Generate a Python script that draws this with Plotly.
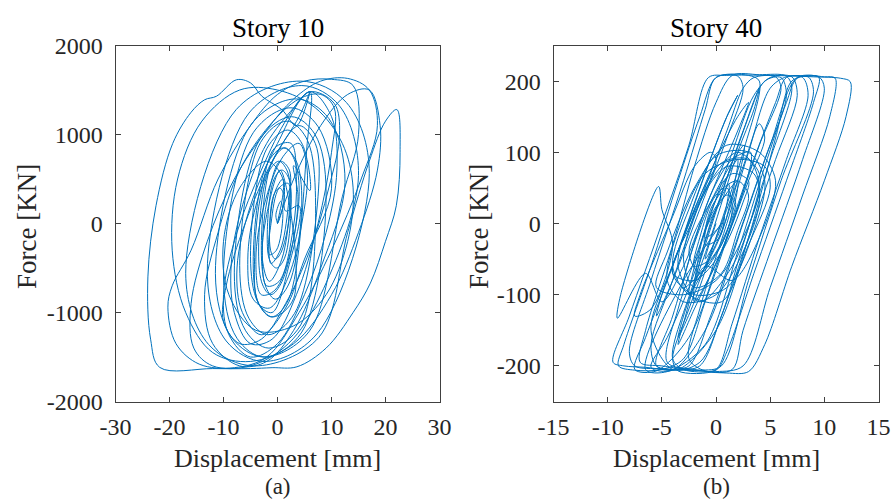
import plotly.graph_objects as go

# Story 10: storey shear force [kN] vs. inter-storey displacement [mm]
story10_disp = [
    0, 1.2, 1.0, -0.5, -1.5, -1.2, 0.5, 2.0, 2.2, 0.5, -1.8, -2.8, -2.0, 0.3, 2.8, 3.5, 2.5, -0.5, -3.0, -4.2,
    -3.5, -1.0, 2.0, 4.0,
    1.5, 1.1, 0.4, -0.7, -1.5, -1.1, -0.4, 0.7,
    2.5, 2.0, 0.8, -0.7, -1.9, -1.4, -0.2, 1.3,
    2.5, 1.8, 0.25, -1.85, -3.5, -2.75, -1.25, 0.85,
    4.0, 3.1, 1.4, -1.1, -3.0, -2.1, -0.4, 2.1,
    4.5, 3.4, 1.1, -2.0, -4.5, -3.4, -1.1, 2.0,
    5.5, 6.0, 3.0, -2.0, -6.0, -8.5, -8.0, -5.0, -1.0, 3.5, 7.5, 10.0, 10.5, 8.0, 4.0, -1.5,
    -7.0, -11.0, -13.5, -12.0, -7.0, -2.0, 3.0, 8.0,
    12.5, 9.5, 3.5, -4.9, -11.5, -8.5, -2.5, 5.9,
    12.0, 15.0, 14.0, 10.0, 5.0, 0.0, -5.0, -11.0, -16.0, -19.5, -20.3, -18.8,
    -14.5, -8.0, -2.0, 4.0, 10.0, 15.5, 18.5, 17.0, 13.0, 8.0, 3.0, -2.0, -8.0, -13.0, -16.0, -15.5, -12.0, -5.0, 2.0, 8.0,
    15.0, 11.5, 4.5, -5.3, -13.0, -9.5, -2.5, 7.3,
    17.0, 12.75, 4.25, -7.65, -17.0, -12.75, -4.25, 7.65,
    13.0, 17.0, 20.0, 22.1, 22.7, 22.0, 20.0, 17.2, 14.0, 9.0, 3.6, -1.0, -5.0, -12.0, -21.8, -23.5, -24.0, -22.5, -19.4, -16.0,
    -13.5, -11.3, -7.6, -5.0, -2.9, 0.8, 3.5, 6.0, 4.0, -1.0, -6.0, -9.5, -10.0, -7.0, -3.0, 1.5, 6.0, 9.5, 11.5, 10.5,
    6.0, 2.0, -3.0, -7.5, -10.0, -9.0, -5.0, 0.0, 5.0, 9.0, 11.0, 10.0, 6.0, 0.0, -5.0, -7.5, -6.5, -3.0, 1.5, 5.0,
    10.0, 7.5, 2.5, -4.5, -10.0, -7.5, -2.5, 4.5,
    9.0, 6.9, 2.6, -3.3, -8.0, -5.9, -1.6, 4.3,
    7.0, 5.25, 1.75, -3.15, -7.0, -5.25, -1.75, 3.15,
    7.5, 7.0, 4.0, 0.0, -4.0, -5.5, -4.5, -1.5, 2.0, 4.5, 5.5, 4.0, 1.0, -2.5, -4.0, -3.0, -0.5, 2.5, 3.8, 3.0,
    6.0, 4.6, 1.9, -2.0, -5.0, -3.6, -0.9, 3.0,
    0.5, -2.0, -2.8, -1.5, 0.8, 2.2, 2.0, 0.3, -1.2, -1.5, -0.2, 1.0, 0.6, -0.3, 0.0,
]
story10_force = [
    0, 250, 500, 350, -100, -450, -300, 200, 600, 700, 300, -300, -700, -650, -100, 500, 900, 850, 350, -300,
    -900, -1000, -500, 200,
    140, 340, 400, 320, -140, -340, -400, -320,
    240, 520, 600, 490, -140, -420, -500, -390,
    210, 590, 700, 550, -310, -690, -800, -650,
    300, 720, 850, 680, -300, -720, -850, -680,
    230, 710, 850, 660, -430, -910, -1050, -860,
    900, 1480, 1300, 900, 300, -400, -1000, -1350, -1300, -800, 0, 800, 1300, 1450, 1400, 1100,
    600, -100, -800, -1350, -1600, -1550, -1200, -500,
    460, 1180, 1400, 1110, -560, -1280, -1500, -1210,
    300, 1000, 1550, 1620, 1600, 1450, 1100, 500, -300, -700, -940, -1350,
    -1580, -1620, -1500, -1000, -300, 500, 1100, 1500, 1630, 1600, 1400, 1050, 500, -200, -900, -1400, -1600, -1600, -1350, -800,
    540, 1320, 1550, 1240, -540, -1320, -1550, -1240,
    560, 1360, 1600, 1280, -560, -1360, -1600, -1280,
    -100, 700, 1150, 1280, 800, 200, -200, -670, -1000, -1400, -1610, -1620, -1630, -1630, -1617, -1300, -600, 200, 900, 1250,
    1390, 1430, 1615, 1580, 1430, 1280, 1100, 1480, 1200, 700, 0, -700, -1100, -1350, -1300, -900, -300, 400, 1000, 1350,
    1480, 1200, 600, -100, -800, -1250, -1500, -1350, -800, -100, 600, 1200, 1480, 900, 200, -500, -1000, -1250, -950, -400,
    390, 1090, 1300, 1020, -590, -1290, -1500, -1220,
    355, 1005, 1200, 940, -555, -1205, -1400, -1140,
    370, 970, 1150, 910, -470, -1070, -1250, -1010,
    300, 900, 1100, 800, 200, -400, -850, -950, -600, 0, 600, 900, 750, 200, -400, -800, -750, -300, 300, 650,
    370, 890, 1050, 840, -370, -890, -1050, -840,
    600, 100, -400, -650, -400, 150, 450, 400, 0, -350, -300, 100, 250, 100, 0,
]
# aftershock cycles
story10_disp_late = [
    0.0, 3.0, 8.0, 13.0, 17.0, 19.0, 18.5, 15.0, 10.0, 3.0, -5.0, -12.0, -17.0, -19.5, -18.5, -14.0,
    -7.0, 0.0, 7.0, 12.0, 14.0, 13.0, 9.0, 3.0, -4.0, -9.0, -10.0, -7.0, -2.0, 1.0, 0.0,
]
story10_force_late = [
    0, 500, 1100, 1450, 1500, 1100, 600, -100, -800, -1350, -1550, -1450, -1000, -300, 500, 1150,
    1500, 1500, 1300, 900, 400, -200, -800, -1150, -1200, -800, -200, 400, 700, 500, 0,
]

# Story 40: storey shear force [kN] vs. inter-storey displacement [mm]
story40_disp = [
    0.0,
    -1.0, 0.5, 1.2, -0.3, -1.8, 0.6, 2.0, -0.5, -2.5, 0.8, 2.6, -0.8, -3.0, 0.5, 2.0, -1.0,
    -2.0, 1.0, 3.2, 1.5, -0.5,
    -4.0, -5.5, -3.5, 0.0, 3.0, 5.5, 7.0, 8.5, 9.0, 6.0, 3.0, 0.5, -1.5, -5.0, -7.5, -8.0, -6.0, -3.0, -1.0, 0.0,
    3.0, 4.0, 2.5, 0.0, -2.0, -3.5, -3.0, -0.5, 2.0, 3.5, 4.0, 3.0, 0.0, -2.5, -4.5, -6.0, -4.0, -1.0, 2.5, 5.0,
    7.5, 10.0, 11.0, 10.5, 8.0, 5.0, 2.5, 0.0, -3.0, -4.0, -2.0, 0.5, 2.5, 4.5, 6.0, 6.5, 4.5, 2.0, -0.5, -2.5,
    -4.5, -6.5, -8.5, -9.5, -8.0, -5.0, -2.5, -0.7, 1.0, 5.0, 9.0, 11.5, 12.4, 12.0, 10.0, 7.0, 4.5, 3.0, 1.0, -2.0,
    -4.5, -3.5, -1.0, 1.5, 3.5, 5.0, 7.0, 7.5, 5.5, 3.0, 0.5, -1.5, -3.5, -5.5, -6.0, -4.0, -1.5, 1.0, 2.5, 3.5,
    5.5, 6.0, 4.0, 1.5, -1.0, -3.0, -5.0, -7.5, -9.0, -8.5, -6.0, -3.5, -1.5, 0.0, 2.0, 2.5, 1.0, -1.5, -4.0, -5.5,
    -5.0, -2.5, 0.0, 2.0, 3.0, 2.0, -0.5, -3.0, -5.0, -6.5, -9.1, -8.8, -5.3, -5.0, -4.0, -6.0, -7.5, -7.0, -4.0, -2.0,
    -0.5, 0.0, -2.0, -4.0,
    -2.0, 1.0, 3.5, 4.5, 3.0, 0.0, -2.5, -4.0, -2.5, 0.5, 3.0, 5.0, 4.5, 2.0, -1.0, -3.5, -4.5, -3.0, 0.0, 2.5,
    4.0, 3.5, 1.0, -1.5, -3.0, -2.0, 0.5, 2.0, 3.0, 2.0, 0.0, -1.5, -2.0, -0.5, 1.0, 1.8, 1.0, -0.5, -1.0, 0.0,
    0.5,
]
story40_force = [
    0,
    -50, -5, 55, 10, -80, -10, 90, 15, -100, 0, 110, 20, -90, -30, 60, -10,
    -110, -20, 100, 90, 40,
    -130, -200, -205, -150, -20, 120, 200, 206, 185, 60, -80, -200, -206, -204, -200, -180, -80, 60, 160, 205,
    208, 200, 100, -20, -110, -160, -130, -20, 100, 160, 190, 150, 20, -90, -160, -202, -206, -150, 0, 110,
    205, 206, 204, 150, 40, -90, -200, -208, -205, -190, -80, 40, 130, 200, 205, 180, 90, -20, -130, -200,
    -205, -202, -200, -195, -130, 0, 110, 205, 208, 208, 206, 204, 199, 150, 60, -60, -170, -208, -210, -205,
    -195, -120, -10, 100, 180, 205, 206, 180, 90, -20, -130, -200, -205, -200, -170, -80, 30, 130, 190, 205,
    206, 190, 110, 0, -110, -190, -205, -206, -200, -170, -60, 60, 150, 205, 207, 190, 120, 20, -80, -130,
    -100, 0, 90, 150, 170, 130, 40, -60, -110, -70, -133, -100, 52, 20, -30, -120, -130, -100, 10, 80,
    100, 90, 10, -70,
    -100, -90, -10, 60, 100, 95, 20, -60, -100, -110, -30, 50, 80, 90, 70, -10, -80, -110, -100, -40,
    30, 70, 80, 30, -50, -90, -70, -10, 40, 60, 40, -20, -60, -50, -10, 30, 40, 10, -20, -10,
    0,
]
# later plastic cycles followed by the low-amplitude tail
story40_disp_late = [
    -3.0, -6.5, -4.5, -1.0, 2.0, 4.5, 6.5, 7.5, 9.5, 10.0, 8.0, 5.0, 2.5, 1.5, -1.0, -2.5, -1.5, 1.0, 3.0, 5.0,
    6.5, 8.0, 8.5, 6.5, 4.0, 1.5, 0.0, -2.0, -5.0, -7.0, -6.5, -4.0, -2.0, 0.0, 1.5, 4.0, 6.5, 7.0, 5.0, 2.5,
    0.5, -1.5, -4.0, -6.0, -3.5, -1.0, 1.0, 2.0, 1.0, -1.5, -4.0, -6.5, -7.5, -5.5, -2.5, 0.5, 3.0, 5.5, 6.5, 8.5,
    9.5, 9.0, 6.5, 3.5, 1.0, 0.0, -3.5, -4.0, -2.5, 0.0, 2.5, 4.0, 4.5, 3.0, 0.5, -2.0, -3.5, -3.0,
    -1.0, 1.5, 4.0, 5.5, 4.0, 1.0, -2.0, -4.5, -5.5, -3.0, 0.0, 2.5, 4.0, 3.0, 0.5, -2.0, -3.5, -1.5, 1.5, 3.5,
    4.0, 2.0, -0.5, -3.0, -4.0, -2.0, 0.5, 2.5, 3.0, 1.5, -0.5, -2.5, -1.5, 0.5, 1.5, 1.0, -0.5, -1.0, 0.3, 0.8,
]
story40_force_late = [
    -80, -205, -208, -170, -40, 80, 170, 204, 206, 190, 90, -40, -150, -205, -207, -190, -120, 0, 100, 190,
    206, 205, 180, 90, -20, -140, -205, -206, -200, -195, -150, -30, 80, 170, 208, 209, 207, 190, 90, -30,
    -130, -195, -205, -150, -40, 70, 150, 180, 150, 50, -60, -160, -205, -207, -160, -40, 70, 170, 205, 207,
    205, 170, 60, -70, -180, -206, -207, -190, -120, -20, 80, 140, 120, 60, -40, -120, -170, -140,
    -60, -80, -20, 60, 100, 110, 50, -40, -90, -100, -80, -20, 50, 90, 85, 20, -60, -110, -60, 20,
    70, 100, 60, -20, -70, -80, -40, 30, 60, 70, 30, -40, -70, -30, 20, 50, 20, -30, -20, 10,
]

LINE_COLOR = "#0072BD"
TEXT_COLOR = "#262626"
FRAME_COLOR = "#404040"
FONT = "Liberation Serif"

fig = go.Figure()
fig.add_trace(go.Scatter(
    x=story10_disp + story10_disp_late, y=story10_force + story10_force_late, mode="lines",
    line=dict(color=LINE_COLOR, width=1, shape="spline", smoothing=1.0),
    xaxis="x", yaxis="y", showlegend=False, hoverinfo="skip",
))
fig.add_trace(go.Scatter(
    x=story40_disp + story40_disp_late, y=story40_force + story40_force_late, mode="lines",
    line=dict(color=LINE_COLOR, width=1, shape="spline", smoothing=0.9),
    xaxis="x2", yaxis="y2", showlegend=False, hoverinfo="skip",
))

W, H = 891, 500
ydom = [1 - 401.5 / H, 1 - 45.5 / H]

axis_common = dict(
    showgrid=False, zeroline=False, showline=True, linecolor=FRAME_COLOR, linewidth=1,
    mirror="ticks", ticks="inside", ticklen=5, tickcolor=FRAME_COLOR, tickwidth=1,
    tickfont=dict(family=FONT, size=24, color=TEXT_COLOR), automargin=False,
)

def tick_text(vals):
    return [str(v) for v in vals]

x1_ticks = [-30, -20, -10, 0, 10, 20, 30]
y1_ticks = [-2000, -1000, 0, 1000, 2000]
x2_ticks = [-15, -10, -5, 0, 5, 10, 15]
y2_ticks = [-200, -100, 0, 100, 200]

fig.update_layout(
    width=W, height=H,
    margin=dict(l=0, r=0, t=0, b=0),
    paper_bgcolor="white", plot_bgcolor="white",
    xaxis=dict(domain=[115.5 / W, 439.5 / W], range=[-30, 30], tickvals=x1_ticks,
               ticktext=tick_text(x1_ticks), anchor="y", ticklabelstandoff=4, **axis_common),
    yaxis=dict(domain=ydom, range=[-2000, 2000], tickvals=y1_ticks,
               ticktext=tick_text(y1_ticks), anchor="x", ticklabelstandoff=7, **axis_common),
    xaxis2=dict(domain=[553.5 / W, 878.5 / W], range=[-15, 15], tickvals=x2_ticks,
                ticktext=tick_text(x2_ticks), anchor="y2", ticklabelstandoff=4, **axis_common),
    yaxis2=dict(domain=ydom, range=[-250, 250], tickvals=y2_ticks,
                ticktext=tick_text(y2_ticks), anchor="x2", ticklabelstandoff=7, **axis_common),
)

def label(text, x, y, size, angle=0, color=TEXT_COLOR):
    fig.add_annotation(
        text=text, x=x / W, y=1 - y / H, xref="paper", yref="paper",
        showarrow=False, textangle=angle, xanchor="center", yanchor="middle",
        font=dict(family=FONT, size=size, color=color),
    )

label("Story 10", 277.5, 28, 27, color="#000000")
label("Story 40", 716, 28, 27, color="#000000")
label("Displacement [mm]", 277, 458, 26)
label("Displacement [mm]", 716, 458, 26)
label("Force [KN]", 27, 227, 27, angle=-90)
label("Force [KN]", 479, 227, 27, angle=-90)
label("(a)", 277.5, 486, 23)
label("(b)", 716, 486, 23)

fig.write_html("out.html")
